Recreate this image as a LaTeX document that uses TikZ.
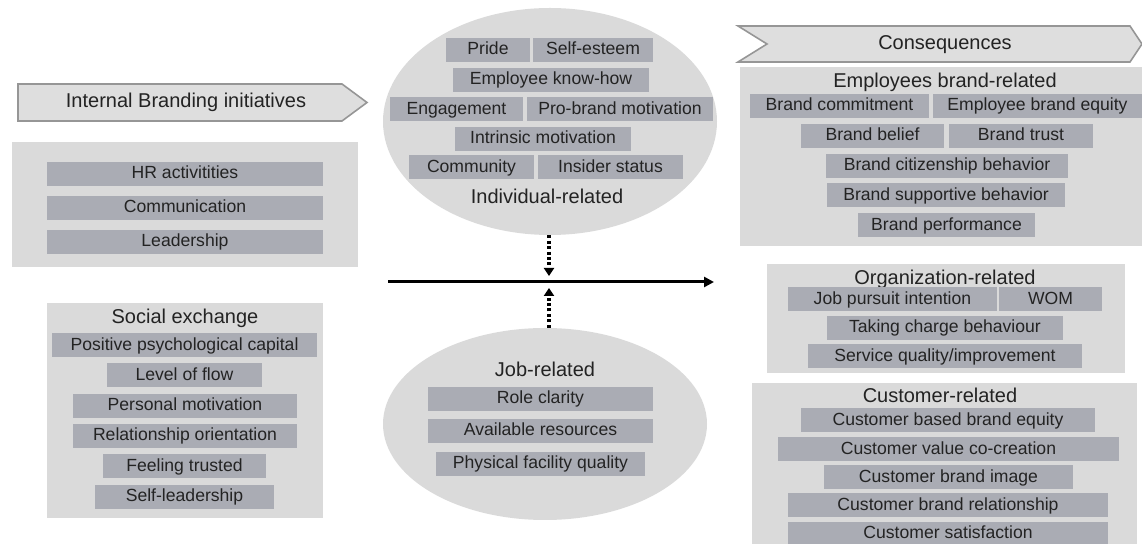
\documentclass[tikz,border=0pt]{standalone}
\usepackage{fontspec}
\setmainfont{Liberation Sans}
\usetikzlibrary{positioning, arrows.meta, shapes.geometric}

\definecolor{panelgray}{RGB}{218,218,218}
\definecolor{itemgray}{RGB}{170,172,180}
\definecolor{taggray}{RGB}{222,222,222}
\definecolor{tagline}{RGB}{150,150,150}
\definecolor{inkgray}{RGB}{35,35,35}

\begin{document}
\begin{tikzpicture}[
  x=0.5pt, y=-0.5pt,
  font=\fontsize{10}{12}\selectfont, text=inkgray,
  panel/.style={fill=panelgray, inner sep=0pt},
  item/.style={fill=itemgray, inner sep=0pt, minimum height=12pt,
    text height=6.4pt, text depth=1.8pt, font=\fontsize{8.8}{10}\selectfont},
  cloud/.style={ellipse, fill=panelgray, inner sep=0pt},
  tag/.style={fill=taggray, draw=tagline, line width=0.8pt},
  heading/.style={inner sep=0pt, text height=7.2pt, text depth=2pt,
    font=\fontsize{10}{12}\selectfont},
  flow/.style={-{Triangle[length=5pt,width=5pt]}, line width=1.5pt, draw=black},
  feed/.style={-{Triangle[length=4pt,width=5pt]}, line width=1.6pt,
    dash pattern=on 1.5pt off 1.2pt, draw=black}
]
\useasboundingbox (0,0) rectangle (1142,544);

% --- left column: internal branding initiatives ---
\draw[tag] (18,84) -- (342,84) -- (367,102.5) -- (342,121) -- (18,121) -- cycle;
\node[heading] (ibi) at (186,102.5) {Internal Branding initiatives};

\node[panel, minimum width=173pt, minimum height=62.5pt] (ibiPanel) at (185,204.5) {};
\node[item, minimum width=138pt] (hr)   at (185,174) {HR activitities};
\node[item, minimum width=138pt] (comm) at (185,208) {Communication};
\node[item, minimum width=138pt] (lead) at (185,242) {Leadership};

\node[panel, minimum width=138pt, minimum height=107.5pt] (socPanel) at (185,410.5) {};
\node[heading] (soc) at (185,318) {Social exchange};
\node[item, minimum width=132.5pt] (pos)   at (184.5,345.5) {Positive psychological capital};
\node[item, minimum width=77.5pt]  (flowL) at (184.5,375.5) {Level of flow};
\node[item, minimum width=112pt]   (pmot)  at (185,406) {Personal motivation};
\node[item, minimum width=112pt]   (rel)   at (185,436) {Relationship orientation};
\node[item, minimum width=81.5pt]  (trust) at (184.5,466.5) {Feeling trusted};
\node[item, minimum width=89.5pt]  (selfl) at (184.5,497) {Self-leadership};

% --- middle: individual- and job-related ellipses ---
\node[cloud, minimum width=167pt, minimum height=113.5pt] (indiv) at (550,121.5) {};
\node[item, minimum width=42pt]   (pride)     at (488,50) {Pride};
\node[item, minimum width=60pt]   (esteem)    at (593,50) {Self-esteem};
\node[item, minimum width=98pt]   (knowhow)   at (551,80) {Employee know-how};
\node[item, minimum width=66.5pt] (engage)    at (456.5,109.5) {Engagement};
\node[item, minimum width=93pt]   (probrand)  at (620,109.5) {Pro-brand motivation};
\node[item, minimum width=88pt]   (intrinsic) at (543,139) {Intrinsic motivation};
\node[item, minimum width=62.5pt] (community) at (471.5,167.5) {Community};
\node[item, minimum width=72.5pt] (insider)   at (610.5,167.5) {Insider status};
\node[heading] (indivLabel) at (547,198) {Individual-related};

\node[cloud, minimum width=162pt, minimum height=96pt] (job) at (545,424) {};
\node[heading] (jobLabel) at (545,371) {Job-related};
\node[item, minimum width=112.5pt] (role)  at (540.5,399) {Role clarity};
\node[item, minimum width=112.5pt] (avail) at (540.5,431) {Available resources};
\node[item, minimum width=104.5pt] (phys)  at (540.5,464) {Physical facility quality};

% --- main line with the two moderating arrows ---
\coordinate (lineStart) at (388,282);
\coordinate (lineEnd)   at (714,282);
\coordinate (tipDown)   at (549,276);
\coordinate (tipUp)     at (549,288);
\draw[flow] (lineStart) -- (lineEnd);
\draw[feed] (indiv.south -| tipDown) -- (tipDown);
\draw[feed] (job.north -| tipUp) -- (tipUp);

% --- right column: consequences ---
\draw[tag] (738,26) -- (1130,26) -- (1142,44) -- (1130,62) -- (738,62) -- (767,44) -- cycle;
\node[heading] (cons) at (945,44.5) {Consequences};

\node[panel, minimum width=201pt, minimum height=89.5pt] (empPanel) at (941,156.5) {};
\node[heading] (emp) at (945,82) {Employees brand-related};
\node[item, minimum width=89.5pt] (commit)   at (839.5,106) {Brand commitment};
\node[item, minimum width=104.5pt] (equity)  at (1037.5,106) {Employee brand equity};
\node[item, minimum width=71.5pt] (belief)   at (872.5,136) {Brand belief};
\node[item, minimum width=72pt]   (btrust)   at (1021,136) {Brand trust};
\node[item, minimum width=121pt]  (citizen)  at (947,166) {Brand citizenship behavior};
\node[item, minimum width=119pt]  (support)  at (946,195.5) {Brand supportive behavior};
\node[item, minimum width=88.5pt] (perform)  at (946.5,225.5) {Brand performance};

\node[panel, minimum width=179pt, minimum height=54.5pt] (orgPanel) at (946,318.5) {};
\node[heading] (org) at (945,279) {Organization-related};
\node[item, minimum width=104.5pt] (pursuit) at (892.5,299.5) {Job pursuit intention};
\node[item, minimum width=51.5pt]  (wom)     at (1050.5,299.5) {WOM};
\node[item, minimum width=118pt]   (charge)  at (945,328) {Taking charge behaviour};
\node[item, minimum width=137pt]   (service) at (945,356.5) {Service quality/improvement};

\node[panel, minimum width=192.5pt, minimum height=80.5pt] (cusPanel) at (944.5,463.5) {};
\node[heading] (cus) at (940,397) {Customer-related};
\node[item, minimum width=147pt]   (cbbe)     at (948,420.5) {Customer based brand equity};
\node[item, minimum width=170.5pt] (cocreate) at (948.5,449.5) {Customer value co-creation};
\node[item, minimum width=124.5pt] (image)    at (948.5,477.5) {Customer brand image};
\node[item, minimum width=160pt]   (relation) at (948,505.5) {Customer brand relationship};
\node[item, minimum width=160pt]   (satisf)   at (948,534) {Customer satisfaction};

\end{tikzpicture}
\end{document}
